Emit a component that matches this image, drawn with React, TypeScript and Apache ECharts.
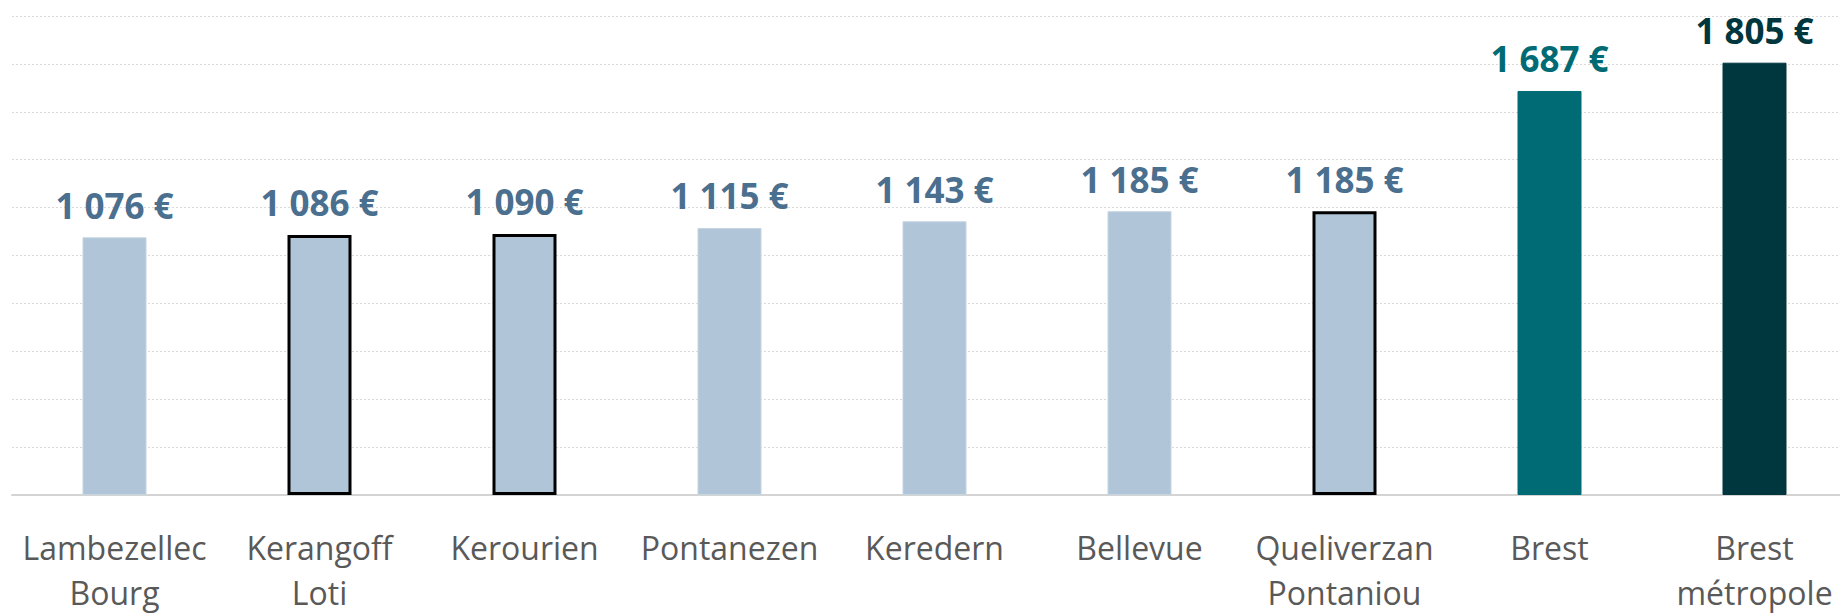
import React, { useEffect, useRef } from "react";
import * as echarts from "echarts";

const categories = [
  "Lambezellec\nBourg",
  "Kerangoff\nLoti",
  "Kerourien",
  "Pontanezen",
  "Keredern",
  "Bellevue",
  "Queliverzan\nPontaniou",
  "Brest",
  "Brest\nmétropole",
];
const values = [1076, 1086, 1090, 1115, 1143, 1185, 1185, 1687, 1805];
const outlined = ["Kerangoff\nLoti", "Kerourien", "Queliverzan\nPontaniou"];
const yTicks = { min: 0, max: 2000, interval: 200 };

const LIGHT = "#b0c5d7";
const LIGHT_TEXT = "#4a6f8f";
const BREST = "#006b75";
const METRO = "#00363d";

function fmt(v: number): string {
  const th = Math.floor(v / 1000);
  const rest = String(v % 1000).padStart(3, "0");
  return th > 0 ? `${th} ${rest} €` : `${rest} €`;
}

export default function App() {
  const ref = useRef<HTMLDivElement>(null);
  useEffect(() => {
    if (!ref.current) return;
    const chart = echarts.init(ref.current, undefined, { renderer: "svg" });
    const data = values.map((v, i) => {
      const name = categories[i];
      const isBrest = name === "Brest";
      const isMetro = name === "Brest\nmétropole";
      const color = isMetro ? METRO : isBrest ? BREST : LIGHT;
      const textColor = isMetro ? METRO : isBrest ? BREST : LIGHT_TEXT;
      const isOutlined = outlined.includes(name);
      return {
        value: v,
        itemStyle: {
          color,
          borderColor: isOutlined ? "#000000" : color === LIGHT ? "#c6d5e2" : color,
          borderWidth: isOutlined ? 3 : 1,
        },
        label: { color: textColor },
      };
    });
    chart.setOption({
      animation: false,
      grid: { left: 12, top: 16, right: 3, bottom: 115, containLabel: false },
      xAxis: {
        type: "category",
        data: categories,
        axisLine: { show: true, lineStyle: { color: "#d4d4d4", width: 2 } },
        axisTick: { show: false },
        axisLabel: {
          interval: 0,
          margin: 30,
          color: "#595959",
          fontFamily: "Open Sans",
          fontSize: 32,
          lineHeight: 45,
        },
      },
      yAxis: {
        type: "value",
        min: yTicks.min,
        max: yTicks.max,
        interval: yTicks.interval,
        axisLabel: { show: false },
        axisLine: { show: false },
        axisTick: { show: false },
        splitLine: { show: true, lineStyle: { color: "#d9d9d9", type: [2, 2], width: 1 } },
      },
      series: [
        {
          type: "bar",
          barWidth: 64,
          data,
          label: {
            show: true,
            position: "top",
            distance: 14,
            fontFamily: "Open Sans",
            fontWeight: "bold",
            fontSize: 35,
            lineHeight: 36,
            formatter: (p: any) => fmt(p.value),
          },
        },
      ],
    });
    return () => chart.dispose();
  }, []);
  return (
    <div
      style={{ position: "fixed", left: 0, top: 0, width: 1840, height: 615, overflow: "hidden", background: "#ffffff" }}
    >
      <div ref={ref} style={{ width: 1860, height: 615 }} />
    </div>
  );
}
